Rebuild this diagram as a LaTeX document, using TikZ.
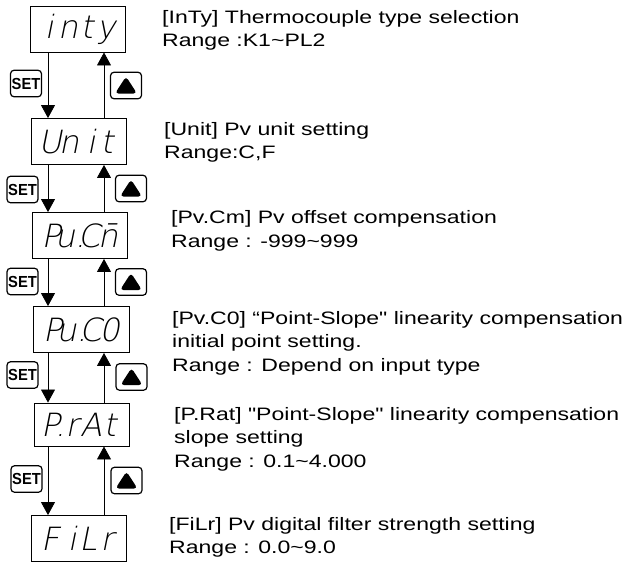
\documentclass[tikz,border=0pt]{standalone}
\usepackage{fontspec}
\setmainfont{Liberation Sans}
\newfontfamily\txtfont{Liberation Sans}[FakeStretch=1.28]
\newfontfamily\btnfont{Liberation Sans}[FakeStretch=0.92]
\newfontfamily\segfont{DejaVu Sans ExtraLight}[FakeSlant=0.2]
\newcommand\segc[1]{\makebox[19pt][c]{#1}}
\newcommand\segr[1]{\makebox[19pt][r]{#1\hspace{2pt}}}
\usetikzlibrary{arrows.meta}
\begin{document}
\begin{tikzpicture}[x=1pt,y=-1pt,
  disp/.style={draw,line width=0.9pt,minimum width=95pt,minimum height=46pt,inner sep=0pt,
    font=\segfont\fontsize{32}{32}\selectfont},
  setbtn/.style={draw,line width=1.2pt,rounded corners=3.5pt,minimum width=31pt,minimum height=26.5pt,inner sep=0pt,
    font=\btnfont\bfseries\fontsize{16}{16}\selectfont},
  upbtn/.style={draw,line width=1.2pt,rounded corners=3.5pt,minimum width=31pt,minimum height=26.5pt,inner sep=0pt,
    path picture={\fill (path picture bounding box.center) ++(-11,8) -- ++(22,0) -- ++(-11,-17) -- cycle;}},
  conn/.style={line width=0.8pt,-{Triangle[width=14pt,length=13pt]}},
  desc/.style={anchor=base west,inner sep=0pt,font=\txtfont\fontsize{18}{18}\selectfont}
]
\useasboundingbox (0,0) rectangle (636,565);
\coordinate (xl) at (48,0);
\coordinate (xr) at (104,0);
% displays
\node[disp] (b1) at (77.5,29) {\segc{i}\segc{n}\segc{t}\segc{y}};
\node[disp] (b2) at (78.5,141.5) {\segc{U}\segc{n}\segr{i}\segc{t}};
\node[disp] (b3) at (79.5,235.5) {\segc{P}\segc{u.}\segc{C}\segc{n̄}};
\node[disp,minimum width=96pt] (b4) at (81,329.5) {\segc{P}\segc{u.}\segc{C}\segc{0}};
\node[disp,minimum height=43pt] (b5) at (81.5,424.5) {\segc{P.}\segc{r}\segc{A}\segc{t}};
\node[disp] (b6) at (78.5,538.5) {\segc{F}\segr{i}\segc{L}\segc{r}};
% connectors
\foreach \a/\b in {b1/b2,b2/b3,b3/b4,b4/b5,b5/b6}{
  \draw[conn] (\a.south -| xl) -- (\b.north -| xl);
  \draw[conn] (\b.north -| xr) -- (\a.south -| xr);
}
% buttons
\node[setbtn] (s1) at (26,83.5) {SET};
\node[upbtn] (u1) at (126,85.5) {};
\node[setbtn] (s2) at (22.5,189.5) {SET};
\node[upbtn] (u2) at (131,188.5) {};
\node[setbtn] (s3) at (22.5,281.5) {SET};
\node[upbtn] (u3) at (131,282) {};
\node[setbtn] (s4) at (22.5,375) {SET};
\node[upbtn] (u4) at (131.5,377) {};
\node[setbtn] (s5) at (26.5,479) {SET};
\node[upbtn] (u5) at (126.5,480.5) {};
% descriptions
\node[desc] (t1a) at (162,23) {[InTy] Thermocouple type selection};
\node[desc] (t1b) at (162,46) {Range :K1\textasciitilde PL2};
\node[desc] (t2a) at (164,135) {[Unit] Pv unit setting};
\node[desc] (t2b) at (164,158) {Range:C,F};
\node[desc] (t3a) at (171,223) {[Pv.Cm] Pv offset compensation};
\node[desc] (t3b) at (171,247) {Range : -999\textasciitilde 999};
\node[desc] (t4a) at (172,324) {[Pv.C0] “Point-Slope" linearity compensation};
\node[desc] (t4b) at (172,347) {initial point setting.};
\node[desc] (t4c) at (172,371) {Range : Depend on input type};
\node[desc] (t5a) at (174,420) {[P.Rat] "Point-Slope" linearity compensation};
\node[desc] (t5b) at (174,443) {slope setting};
\node[desc] (t5c) at (174,467) {Range : 0.1\textasciitilde 4.000};
\node[desc] (t6a) at (169,530) {[FiLr] Pv digital filter strength setting};
\node[desc] (t6b) at (169,553) {Range : 0.0\textasciitilde 9.0};
\end{tikzpicture}
\end{document}
